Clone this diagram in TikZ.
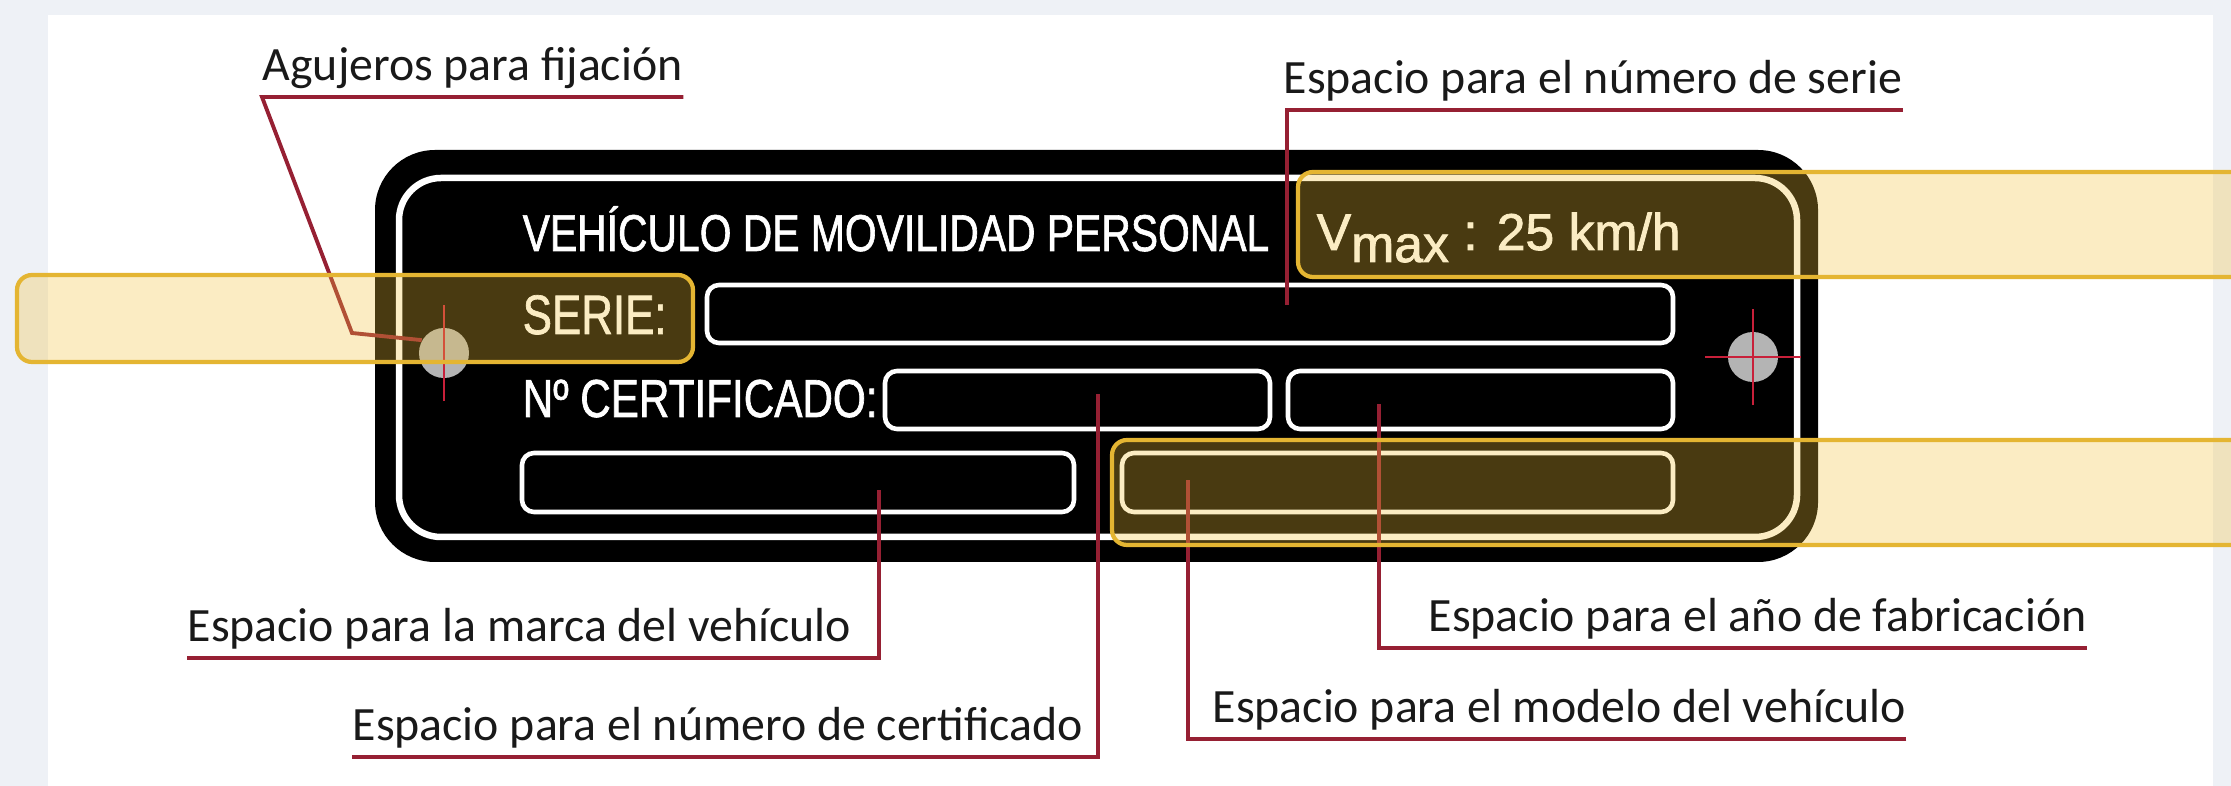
\documentclass[tikz,border=0pt]{standalone}
\usepackage{fontspec}
\setmainfont{Carlito}
\newfontfamily\placafont[FakeStretch=0.79,FakeBold=1.2]{Liberation Sans}
\newfontfamily\vmaxfont[FakeBold=1.6]{Liberation Sans}
\definecolor{fondo}{HTML}{EEF1F6}
\definecolor{guia}{HTML}{962033}
\definecolor{cruz}{HTML}{C8203A}
\definecolor{oro}{HTML}{F2C23A}
\definecolor{borde}{HTML}{E4B532}
\definecolor{agujero}{HTML}{B4B4B4}

\begin{document}
\begin{tikzpicture}[x=0.01cm,y=-0.01cm,
  etiqueta/.style={anchor=south west,inner xsep=0pt,inner ysep=0.16cm,text depth=0pt,
    font=\fontsize{13.6}{16}\selectfont,text=black!90},
  guiaroja/.style={draw=guia,line width=1.1pt},
  campo/.style={draw=white,fill=black,line width=1.3pt,rounded corners=0.12cm},
  rotulo/.style={anchor=base west,inner sep=0pt,text=white,font=\placafont\fontsize{14.7}{16}\selectfont},
  agujerofij/.style={circle,fill=agujero,minimum size=0.5cm,inner sep=0pt},
  resalte/.style={fill=oro,fill opacity=0.3,draw=borde,line width=1.2pt,rounded corners=0.15cm}]
  \useasboundingbox (0,0) rectangle (2231,786);
  % fondo
  \fill[fondo] (0,0) rectangle (2231,786);
  \fill[white] (48,15) rectangle (2213,786);
  % placa (negra, filete blanco)
  \fill[black,rounded corners=0.6cm] (375,150) rectangle (1818,562);
  \draw[white,line width=1.85pt,rounded corners=0.42cm] (399,178) rectangle (1797,537);
  % campos en blanco
  \draw[campo] (707,285) rectangle (1673,343);
  \draw[campo] (885,371) rectangle (1270,429);
  \draw[campo] (1288,371) rectangle (1673,429);
  \draw[campo] (522,453) rectangle (1074,512);
  \draw[campo] (1122,453) rectangle (1673,512);
  % textos de la placa
  \node[rotulo] (titulo) at (522,251) {VEHÍCULO DE MOVILIDAD PERSONAL};
  \node[rotulo,font=\placafont\fontsize{15.8}{17}\selectfont] (serie) at (522,334) {SERIE:};
  \node[rotulo,font=\placafont\fontsize{15.2}{17}\selectfont] (certif) at (522,417) {Nº CERTIFICADO:};
  \node[rotulo,font=\vmaxfont\fontsize{14.7}{16}\selectfont] (vmax) at (1316,250) {V\raisebox{-0.12cm}{max} : 25 km/h};
  % agujeros de fijacion
  \node[agujerofij] (agIzq) at (444,353) {};
  \node[agujerofij] (agDer) at (1753,357) {};
  % etiquetas
  \node[etiqueta] (lblAgu) at (262,97) {Agujeros para fijación};
  \node[etiqueta] (lblSer) at (1283,110) {Espacio para el número de serie};
  \node[etiqueta] (lblMar) at (187,658) {Espacio para la marca del vehículo};
  \node[etiqueta] (lblCer) at (352,757) {Espacio para el número de certificado};
  \node[etiqueta] (lblMod) at (1212,739) {Espacio para el modelo del vehículo};
  \node[etiqueta] (lblAno) at (1428,648) {Espacio para el año de fabricación};
  % lineas guia
  \coordinate (kAgu) at (352,333);
  \coordinate (tSer) at (1287,305);
  \coordinate (tMar) at (879,490);
  \coordinate (tCer) at (1098,394);
  \coordinate (tMod) at (1188,480);
  \coordinate (tAno) at (1379,404);
  \draw[guiaroja] (lblAgu.south east) -- (lblAgu.south west) -- (kAgu) -- (agIzq.150);
  \draw[guiaroja] (lblSer.south east) -- (tSer |- lblSer.south) -- (tSer);
  \draw[guiaroja] (lblMar.south west) -- (tMar |- lblMar.south) -- (tMar);
  \draw[guiaroja] (lblCer.south west) -- (tCer |- lblCer.south) -- (tCer);
  \draw[guiaroja] (lblMod.south east) -- (tMod |- lblMod.south) -- (tMod);
  \draw[guiaroja] (lblAno.south east) -- (tAno |- lblAno.south) -- (tAno);
  % cruces de centrado
  \draw[cruz,line width=0.8pt] ([yshift=-0.48cm]agIzq.center) -- ([yshift=0.48cm]agIzq.center);
  \draw[cruz,line width=0.8pt] ([yshift=-0.48cm]agDer.center) -- ([yshift=0.48cm]agDer.center)
    ([xshift=-0.48cm]agDer.center) -- ([xshift=0.48cm]agDer.center);
  % franjas resaltadas
  \draw[resalte] (2300,172) -- (1298,172) -- (1298,277) -- (2300,277);
  \draw[resalte] (17,275) rectangle (693,362);
  \draw[resalte] (2300,440) -- (1112,440) -- (1112,545) -- (2300,545);
\end{tikzpicture}
\end{document}
